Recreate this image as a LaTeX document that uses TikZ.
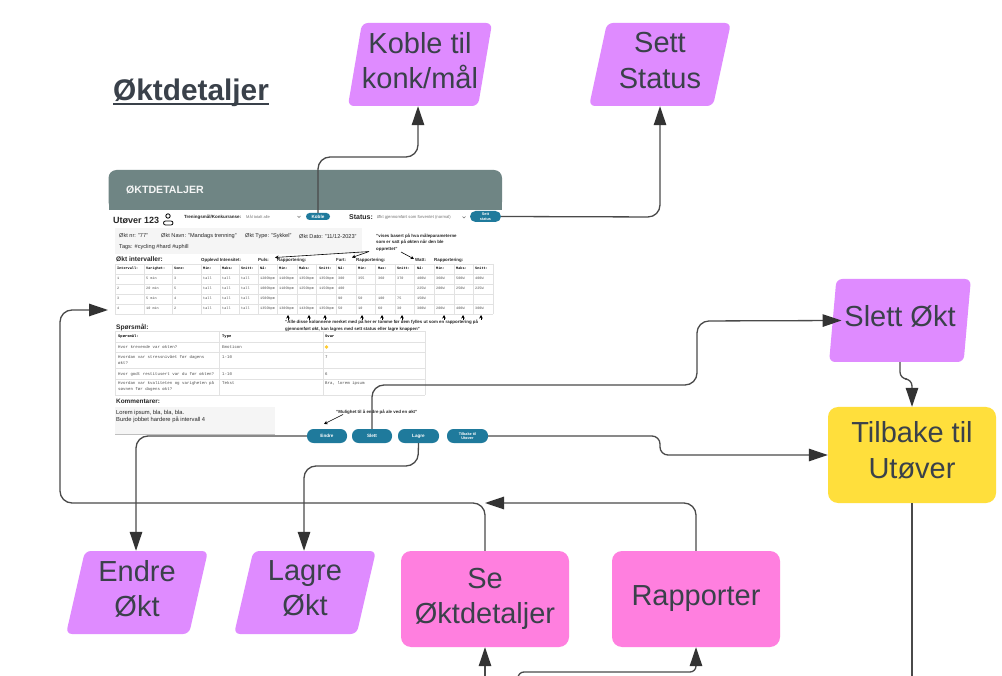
\documentclass[tikz,border=0pt]{standalone}
\usepackage{fontspec}
\setmainfont{Liberation Sans}
\newfontfamily\monof{Liberation Mono}
\usetikzlibrary{shapes.geometric,arrows.meta,calc}
\definecolor{ink}{HTML}{3A414A}
\definecolor{purp}{HTML}{DF8BFF}
\definecolor{pinkb}{HTML}{FF7FDF}
\definecolor{yell}{HTML}{FFDF3C}
\definecolor{head}{HTML}{6F8584}
\definecolor{btn}{HTML}{1F7A9C}
\definecolor{gridc}{HTML}{E2E2E2}
\definecolor{lineg}{HTML}{4A4A4A}
\definecolor{tipc}{HTML}{333333}
\definecolor{panel}{HTML}{F5F5F5}
\tikzset{
  para/.style={trapezium,trapezium left angle=77.8,trapezium right angle=102.2,trapezium stretches=true,
    minimum width=142,minimum height=83,inner sep=0,fill=purp,rounded corners=6,text=ink,align=center,
    text depth=8.5,font=\fontsize{29}{35.5}\selectfont},
  boxn/.style={rectangle,minimum width=168,minimum height=96,inner sep=0,rounded corners=10,text=ink,align=center,
    font=\fontsize{29}{35.5}\selectfont},
  conn/.style={draw=lineg,line width=1.3,rounded corners=12,-{Triangle[length=19,width=12.5,color=tipc,fill=tipc]}},
  plain/.style={draw=lineg,line width=1.3,rounded corners=12},
  tinyarrow/.style={draw=black,line width=.6,-{Stealth[length=3.5,width=3.5]}},
  pill/.style={rectangle,rounded corners=6.5,fill=btn,text=white,inner sep=0,minimum height=14,minimum width=41,
    align=center,font=\bfseries\fontsize{4.6}{5.2}\selectfont},
  lab/.style={anchor=west,inner sep=0,text=black!85,font=\fontsize{5.6}{6.6}\selectfont},
  labb/.style={lab,font=\bfseries\fontsize{4.4}{6.6}\selectfont,align=left},
  sect/.style={lab,font=\bfseries\fontsize{6.6}{8}\selectfont},
  mono/.style={anchor=west,inner sep=0,text height=2.6,text depth=.8,text=black!70,font=\monof\fontsize{3.5}{4}\selectfont},
  monob/.style={mono,text=black,font=\monof\bfseries\fontsize{3.5}{4}\selectfont},
  monoq/.style={anchor=west,inner sep=0,text=black!70,align=left,font=\monof\fontsize{4.1}{6.6}\selectfont},
  grid/.style={draw=gridc,line width=.4},
}
\begin{document}
\begin{tikzpicture}[x=1pt,y=-1pt]
\useasboundingbox (0,0) rectangle (1002,676);
\fill[white] (0,0) rectangle (1002,676);

% Title
\node[anchor=base west,inner sep=0,text=ink,font=\bfseries\fontsize{29.8}{32}\selectfont] (title) at (113,101) {Øktdetaljer};
\draw[ink,line width=2] ($(title.base west)+(0,2.6)$) -- ($(title.base east)+(0,2.6)$);

% Mock screenshot
\fill[head,rounded corners=8] (108.5,210) -- (108.5,170) -- (502,170) -- (502,210) -- cycle;
\fill[head] (108.5,200) rectangle (502,210);
\node[anchor=west,inner sep=0,text=white!92!head,font=\bfseries\fontsize{10.6}{11}\selectfont] (mockhead) at (126,190) {ØKTDETALJER};
\node[lab,font=\bfseries\fontsize{9}{10}\selectfont] (user) at (113,220.5) {Utøver 123};
\draw[black,line width=.8] (168,216) circle (2.2);
\draw[black,line width=.8,rounded corners=2] (163.5,221) rectangle (173,225);
\node[lab,font=\bfseries\fontsize{4.5}{5}\selectfont] (konk) at (184,217) {Treningsmål/Konkurranse:};
\node[lab,text=black!55,font=\fontsize{4}{5}\selectfont] (konkv) at (246,217) {Mål totalt alle};
\draw[black!55,line width=.5] (297.5,216) -- (299,217.5) -- (300.5,216);
\node[pill,minimum width=24,minimum height=7,rounded corners=3.5] (bkoble) at (318,216.5) {Koble};
\node[lab,font=\bfseries\fontsize{7}{8}\selectfont] (status) at (349,217) {Status:};
\node[lab,text=black!55,font=\fontsize{4.2}{5}\selectfont] (statusv) at (377,217.5) {Økt gjennomført som forventet (normal)};
\draw[black!55,line width=.5] (462.5,216.5) -- (464,218) -- (465.5,216.5);
\node[pill,minimum width=31,minimum height=11,rounded corners=5.5,font=\bfseries\fontsize{3.8}{4.6}\selectfont] (bsett) at (485.5,216.5) {Sett\\status};

\fill[panel] (115,228) rectangle (362,254);
\node[lab] (oktnr) at (119,236) {Økt nr: "77"};
\node[lab] (oktnavn) at (161,236) {Økt Navn: "Mandags trenning"};
\node[lab] (okttype) at (245,236) {Økt Type: "Sykkel"};
\node[lab] (oktdato) at (299,236.5) {Økt Dato: "11/12-2023"};
\node[lab] (tags) at (119,247) {Tags: \#cycling \#hard \#uphill};
\node[labb] (note1) at (376,242.5) {"vises basert på hva måleparameterne\\som er satt på økten når den ble\\opprettet"};

% Interval table
\node[sect] (sint) at (116,259) {Økt intervaller:};
\node[labb] (h1) at (201,260) {Opplevd Intensitet:};
\node[labb] (h2) at (258,260) {Puls:};
\node[labb] (h3) at (277,260) {Rapportering:};
\node[labb] (h4) at (336,260) {Fart:};
\node[labb] (h5) at (356,260) {Rapportering:};
\node[labb] (h6) at (415,260) {Watt:};
\node[labb] (h7) at (434,260) {Rapportering:};
\foreach \yy in {264,274,284,294,304,314} \draw[grid] (115,\yy) -- (493,\yy);
\foreach \xx in {115,144,172,201,220,239,258,277,297,316,336,356,375,395,414,434,454,473,493} \draw[grid] (\xx,264) -- (\xx,314);
\foreach \xx/\t in {117/Intervall:,146/Varighet:,174/Sone:,203/Min:,222/Maks:,241/Snitt:,260/Nå:,279/Min:,299/Maks:,319/Snitt:,338/Nå:,358/Min:,378/Max:,397/Snitt:,417/Nå:,436/Min:,456/Maks:,475/Snitt:}
  \node[monob] (th\xx) at (\xx,269) {\t};
\foreach \xx/\t in {117/1,146/5 min,174/3,203/tall,222/tall,241/tall,260/1200bpm,279/1100bpm,299/1350bpm,319/1350bpm,338/300,358/355,378/360,397/370,417/400W,436/360W,456/500W,475/400W}
  \node[mono] (ra\xx) at (\xx,279) {\t};
\foreach \xx/\t in {117/2,146/20 min,174/5,203/tall,222/tall,241/tall,260/1000bpm,279/1100bpm,299/1250bpm,319/1150bpm,338/400,417/225W,436/200W,456/250W,475/225W}
  \node[mono] (rb\xx) at (\xx,289) {\t};
\foreach \xx/\t in {117/3,146/5 min,174/4,203/tall,222/tall,241/tall,260/1500bpm,338/90,358/50,378/100,397/75,417/150W}
  \node[mono] (rc\xx) at (\xx,299) {\t};
\foreach \xx/\t in {117/4,146/10 min,174/2,203/tall,222/tall,241/tall,260/1350bpm,279/1300bpm,299/1430bpm,319/1350bpm,338/50,358/10,378/60,397/30,417/300W,436/200W,456/400W,475/300W}
  \node[mono] (rd\xx) at (\xx,309) {\t};

\foreach \xx in {288,309,325,362,382,402,444,463,481} {
  \coordinate (upa\xx) at (\xx,320);
  \coordinate (upb\xx) at (\xx,315);
  \draw[tinyarrow] (upa\xx) -- (upb\xx);
}
\node[labb] (note2) at (285,325.5) {"Alle disse kolonnene merket med på her er tomme før dem fylles ut som en rapportering på\\gjennomført økt, kan lagres med sett status eller lagre knappen"};

% Question table
\node[sect] (ssp) at (116,327) {Spørsmål:};
\foreach \yy in {331,342,352,368,379,395} \draw[grid] (115,\yy) -- (425,\yy);
\foreach \xx in {115,219.5,323,425} \draw[grid] (\xx,331) -- (\xx,395);
\node[monoq,text=black,font=\monof\bfseries\fontsize{3.8}{5}\selectfont] (q0) at (118,336.5) {Spørsmål:};
\node[monoq,text=black,font=\monof\bfseries\fontsize{3.8}{5}\selectfont] (q0t) at (222,336.5) {Type};
\node[monoq,text=black,font=\monof\bfseries\fontsize{3.8}{5}\selectfont] (q0s) at (325,336.5) {Svar};
\node[monoq] (q1) at (118,347) {Hvor krevende var økten?};
\node[monoq] (q1t) at (222,347) {Emoticon};
\node[circle,fill=yell!80!orange,inner sep=0,minimum size=3.6] (q1s) at (326.5,347) {};
\node[monoq] (q2) at (118,360) {Hvordan var stressnivået før dagens\\økt?};
\node[monoq] (q2t) at (222,357) {1-10};
\node[monoq] (q2s) at (325,357) {7};
\node[monoq] (q3) at (118,374) {Hvor godt restitusert var du før økten?};
\node[monoq] (q3t) at (222,374) {1-10};
\node[monoq] (q3s) at (325,374) {6};
\node[monoq] (q4) at (118,386.5) {Hvordan var kvaliteten og varigheten på\\søvnen før dagens økt?};
\node[monoq] (q4t) at (222,383.5) {Tekst};
\node[monoq] (q4s) at (325,383.5) {Bra, lorem ipsum};

\node[sect,font=\bfseries\fontsize{6.4}{8}\selectfont] (skom) at (116,401) {Kommentarer:};
\fill[black!25] (115,433) rectangle (275,435);
\fill[panel] (115,407) rectangle (275,433.5);
\node[lab,align=left,font=\fontsize{5.8}{6.8}\selectfont] (kom) at (116,416.5) {Lorem ipsum, bla, bla, bla.\\Burde jobbet hardere på intervall 4};

\node[labb] (note3) at (336,412) {"Mulighet til å endre på ale ved en økt"};
\node[pill,minimum width=40] (bendre) at (327,436) {Endre};
\node[pill,minimum width=40] (bslett) at (372,436) {Slett};
\node[pill,minimum width=41] (blagre) at (418.5,436) {Lagre};
\node[pill,minimum width=41,font=\bfseries\fontsize{3.8}{4.6}\selectfont] (btilb) at (467.5,436) {Tilbake til\\Utøver};

% Small note arrows
\draw[tinyarrow] (note1.south west) ++(-7,0) coordinate (n1a) (n1a) -- (352,257.5);
\draw[tinyarrow] (n1a) -- (275,257.5);
\draw[tinyarrow] (401,252) -- (414,259);
\draw[tinyarrow] (note3.south west) ++(7,0) coordinate (n3a) (n3a) -- (324,424);

% Big shapes
\node[para,minimum width=140] (koble) at (420,64.5) {Koble til\\konk/mål};
\node[para] (sett) at (660,64.5) {Sett\\Status};
\node[para] (slettk) at (900,320.5) {Slett Økt};
\node[para] (endrek) at (137,592.5) {Endre\\Økt};
\node[para] (lagrek) at (305,592.5) {Lagre\\Økt};
\node[boxn,fill=yell,text depth=10] (tilbake) at (912,455) {Tilbake til\\Utøver};
\node[boxn,fill=pinkb] (se) at (485,599) {Se\\Øktdetaljer};
\node[boxn,fill=pinkb] (rapp) at (696,599) {Rapporter};

% Free ends and arrival points
\coordinate (mockin) at (108,310);
\coordinate (botse) at (485,677);
\coordinate (botra) at (518,677);
\coordinate (bottil) at (912,677);
\coordinate (mergept) at (485,503);

% Connectors
\draw[conn] (bkoble.north) -- (318,157) -- (418,157) -- ($(koble.south)+(-2,0)$);
\draw[conn] (bsett.east) -- (660,217) -- (sett.south);
\draw[conn] (bslett.north) -- (372,385) -- (697,385) -- (697,321) -- ($(slettk.west)+(9,0)$);
\draw[conn,rounded corners=8] (btilb.east) -- (660,436) -- (660,455) -- (tilbake.west);
\draw[conn,rounded corners=7] (slettk.south) -- (900,379) -- (912,379) -- (tilbake.north);
\draw[plain] (tilbake.south) -- (bottil);
\draw[conn] (bendre.west) -- (136,436) -- ($(endrek.north)+(-1,0)$);
\draw[conn] (blagre.south) -- (418,466) -- (304,466) -- ($(lagrek.north)+(-1,0)$);
\draw[conn] (se.north) -- (485,503) -- (60,503) -- (60,310) -- (mockin);
\draw[conn] (rapp.north) -- (696,503) -- (mergept);
\draw[conn] (botse) -- (se.south);
\draw[conn,rounded corners=6] (botra) -- (518,672) -- (696,672) -- (rapp.south);
\end{tikzpicture}
\end{document}
